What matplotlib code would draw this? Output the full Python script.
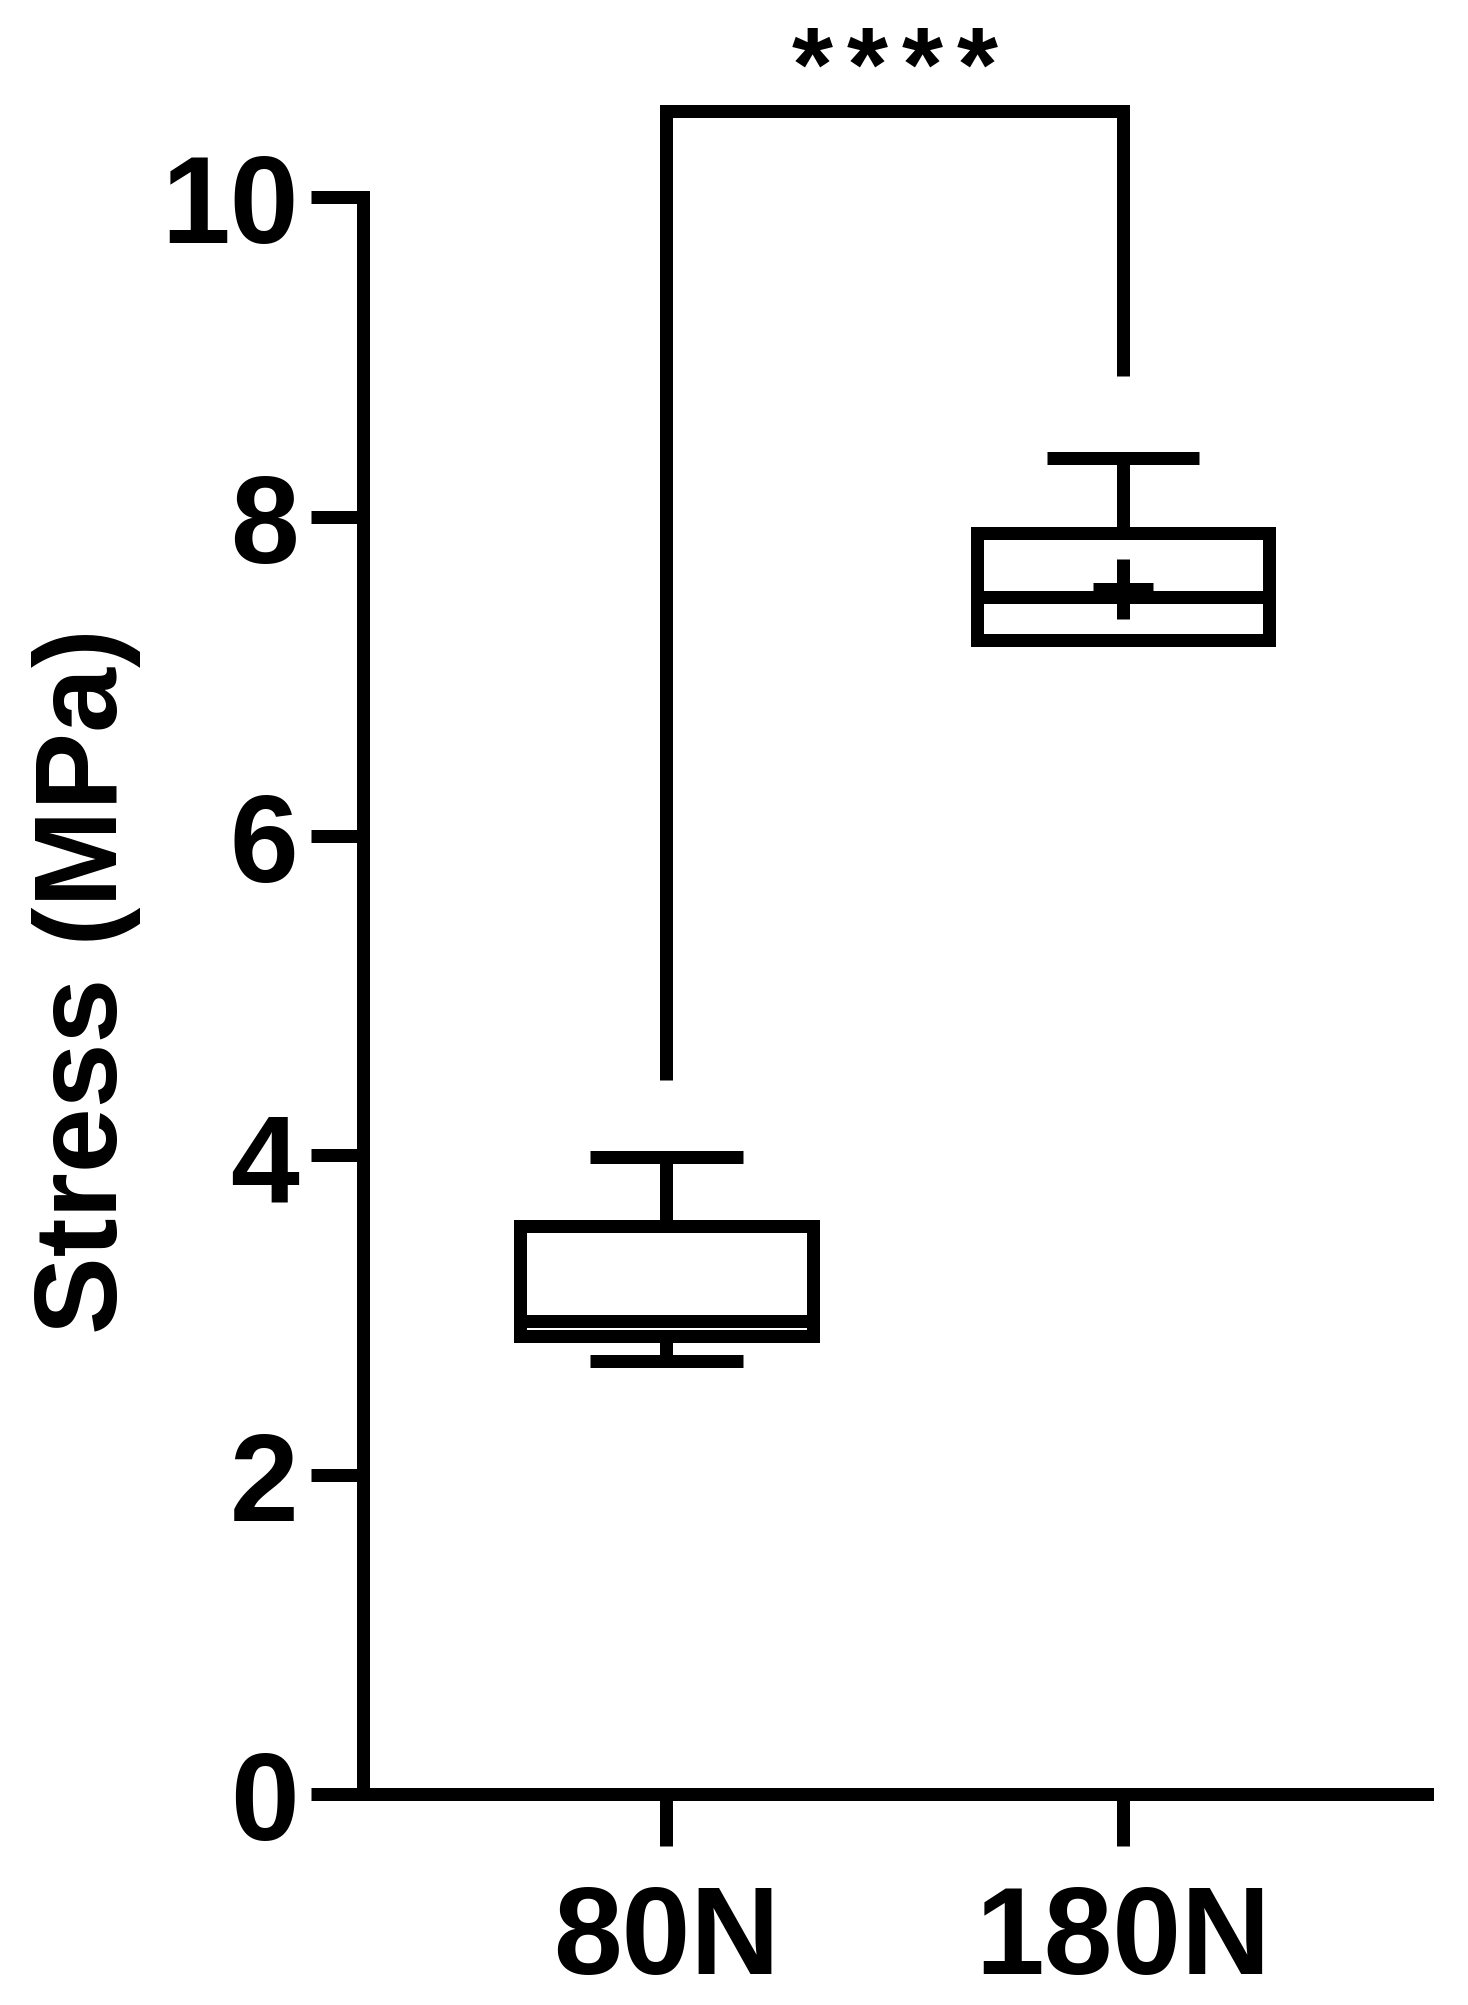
import numpy as np
import matplotlib
matplotlib.use('Agg')
import matplotlib.pyplot as plt

plt.rcParams['font.family'] = ['Liberation Sans', 'DejaVu Sans']
plt.rcParams['font.weight'] = 'bold'

# data
groups = ['80N', '180N']
q1 = [2.87, 7.23]
median = [2.96, 7.50]
q3 = [3.56, 7.90]
whisker_low = [2.71, 7.23]
whisker_high = [3.99, 8.37]
means = [np.nan, 7.55]   # only the 180N mean marker is visible

bracket_ends = [4.47, 8.88]
bracket_top = 10.54
sig_label = '****'

y_ticks = [0, 2, 4, 6, 8, 10]

stats = []
for g, a, m, b, lo, hi, mu in zip(groups, q1, median, q3, whisker_low, whisker_high, means):
    stats.append(dict(label=g, q1=a, med=m, q3=b, whislo=lo, whishi=hi, mean=mu, fliers=[]))

lw = 9.36  # ~13 px at 100 dpi

fig = plt.figure(figsize=(14.68, 20.06), dpi=100)
ax = fig.add_axes([0.2476, 0.1052, 0.7248, 0.7959])

ax.bxp(stats, positions=[0, 1], widths=0.64, capwidths=0.335,
       showmeans=True, showfliers=False,
       boxprops=dict(color='black', linewidth=lw, solid_joinstyle='miter'),
       medianprops=dict(color='black', linewidth=lw, solid_capstyle='butt'),
       whiskerprops=dict(color='black', linewidth=lw, solid_capstyle='butt'),
       capprops=dict(color='black', linewidth=lw, solid_capstyle='butt'),
       meanprops=dict(marker='+', markersize=43.9, markeredgewidth=lw,
                      markeredgecolor='black'))

# significance bracket
ax.plot([0, 0, 1, 1], [bracket_ends[0], bracket_top, bracket_top, bracket_ends[1]],
        color='black', lw=lw, clip_on=False,
        solid_joinstyle='miter', solid_capstyle='butt')

# stars are spaced wider than the font does it, so one text per star
star_gap = 0.1205
n = len(sig_label)
for i, ch in enumerate(sig_label):
    ax.text(0.5 + (i - (n - 1) / 2) * star_gap, 10.61, ch, ha='center', va='baseline',
            fontsize=76, fontweight='bold', clip_on=False)

ax.set_xlim(-0.6637, 1.667)
ax.set_ylim(0, 10)
ax.set_yticks(y_ticks)
ax.set_xticks([0, 1])
ax.set_xticklabels(groups)

for side in ['top', 'right']:
    ax.spines[side].set_visible(False)
for side in ['left', 'bottom']:
    ax.spines[side].set_linewidth(lw)
    ax.spines[side].set_capstyle('projecting')

ax.tick_params(axis='both', length=37.8, width=lw, labelsize=89, direction='out')
ax.tick_params(axis='x', pad=26)
ax.tick_params(axis='y', pad=9)

ax.set_ylabel('Stress (MPa)', fontsize=84, fontweight='bold')
ax.yaxis.set_label_coords(-0.209, 0.51)

fig.savefig('out.png', dpi=100)
